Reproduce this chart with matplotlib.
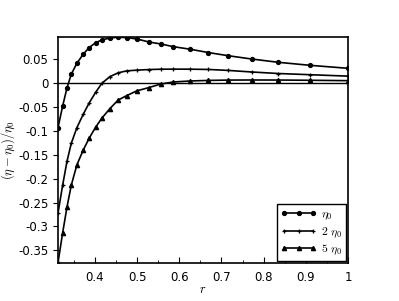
import matplotlib
matplotlib.use('Agg')
import matplotlib.pyplot as plt
from matplotlib.ticker import MultipleLocator, FormatStrFormatter

plt.rcParams['mathtext.fontset'] = 'cm'
plt.rcParams['axes.unicode_minus'] = False

# sample radii (same grid for every curve)
r = [0.3125, 0.3234, 0.3337, 0.3439, 0.3573, 0.3723, 0.3865, 0.4017, 0.4166,
     0.4356, 0.4553, 0.4752, 0.4989, 0.528, 0.5565, 0.5857, 0.6253, 0.6687,
     0.7161, 0.7716, 0.8347, 0.9098, 1.0]

# relative deviation (eta - eta0)/eta0
eta_1 = [-0.093, -0.048, -0.010, 0.019, 0.042, 0.061, 0.075, 0.085, 0.091,
         0.095, 0.0966, 0.0958, 0.093, 0.0866, 0.0824, 0.0768, 0.0715, 0.0645,
         0.0578, 0.0509, 0.044, 0.0377, 0.0314]
eta_2 = [-0.272, -0.214, -0.164, -0.126, -0.093, -0.065, -0.041, -0.019, 0.0,
         0.014, 0.022, 0.026, 0.0275, 0.0288, 0.0295, 0.0297, 0.0296, 0.029,
         0.027, 0.0237, 0.0205, 0.018, 0.015]
eta_5 = [-0.376, -0.314, -0.260, -0.214, -0.171, -0.140, -0.115, -0.092, -0.073,
         -0.053, -0.035, -0.026, -0.016, -0.009, -0.0015, 0.0027, 0.0048, 0.006,
         0.0067, 0.0069, 0.0068, 0.0063, 0.0055]

labels = [r'$\eta_0$', r'$2\ \eta_0$', r'$5\ \eta_0$']

fig = plt.figure(figsize=(3.99, 3.01), dpi=100)
ax = fig.add_axes([0.1454, 0.126, 0.7266, 0.751])

ax.axhline(0, color='black', lw=1.0)
ax.plot(r, eta_1, '-o', color='black', lw=1.2, ms=2.8, label=labels[0])
ax.plot(r, eta_2, '-+', color='black', lw=1.2, ms=3.5, mew=0.9, label=labels[1])
ax.plot(r, eta_5, '-^', color='black', lw=1.2, ms=3.0, label=labels[2])

ax.set_xlim(0.3125, 1.0)
ax.set_ylim(-0.377, 0.097)

ax.xaxis.set_major_locator(MultipleLocator(0.1))
ax.xaxis.set_minor_locator(MultipleLocator(0.05))
ax.yaxis.set_major_locator(MultipleLocator(0.05))
ax.xaxis.set_major_formatter(FormatStrFormatter('%g'))
ax.yaxis.set_major_formatter(FormatStrFormatter('%g'))
ax.tick_params(axis='x', which='both', direction='in', labelsize=8.5, pad=6)
ax.tick_params(axis='x', which='major', length=4)
ax.tick_params(axis='x', which='minor', length=2)
ax.tick_params(axis='y', direction='out', length=3.5, labelsize=8.5)
for s in ax.spines.values():
    s.set_linewidth(1.2)

ax.set_xlabel(r'$r$', fontsize=9)
ax.set_ylabel(r'$(\eta-\eta_0)/\eta_0$', fontsize=9)
ax.xaxis.set_label_coords(0.5, -0.09)
ax.yaxis.set_label_coords(-0.14, 0.5)

leg = ax.legend(loc='lower right', numpoints=3, fancybox=False, framealpha=1,
                edgecolor='black', fontsize=8.5, handlelength=3.0,
                borderaxespad=0.2, labelspacing=0.25, handletextpad=0.4,
                borderpad=0.3)
leg.get_frame().set_linewidth(1.0)

fig.savefig('out.png', dpi=100)
